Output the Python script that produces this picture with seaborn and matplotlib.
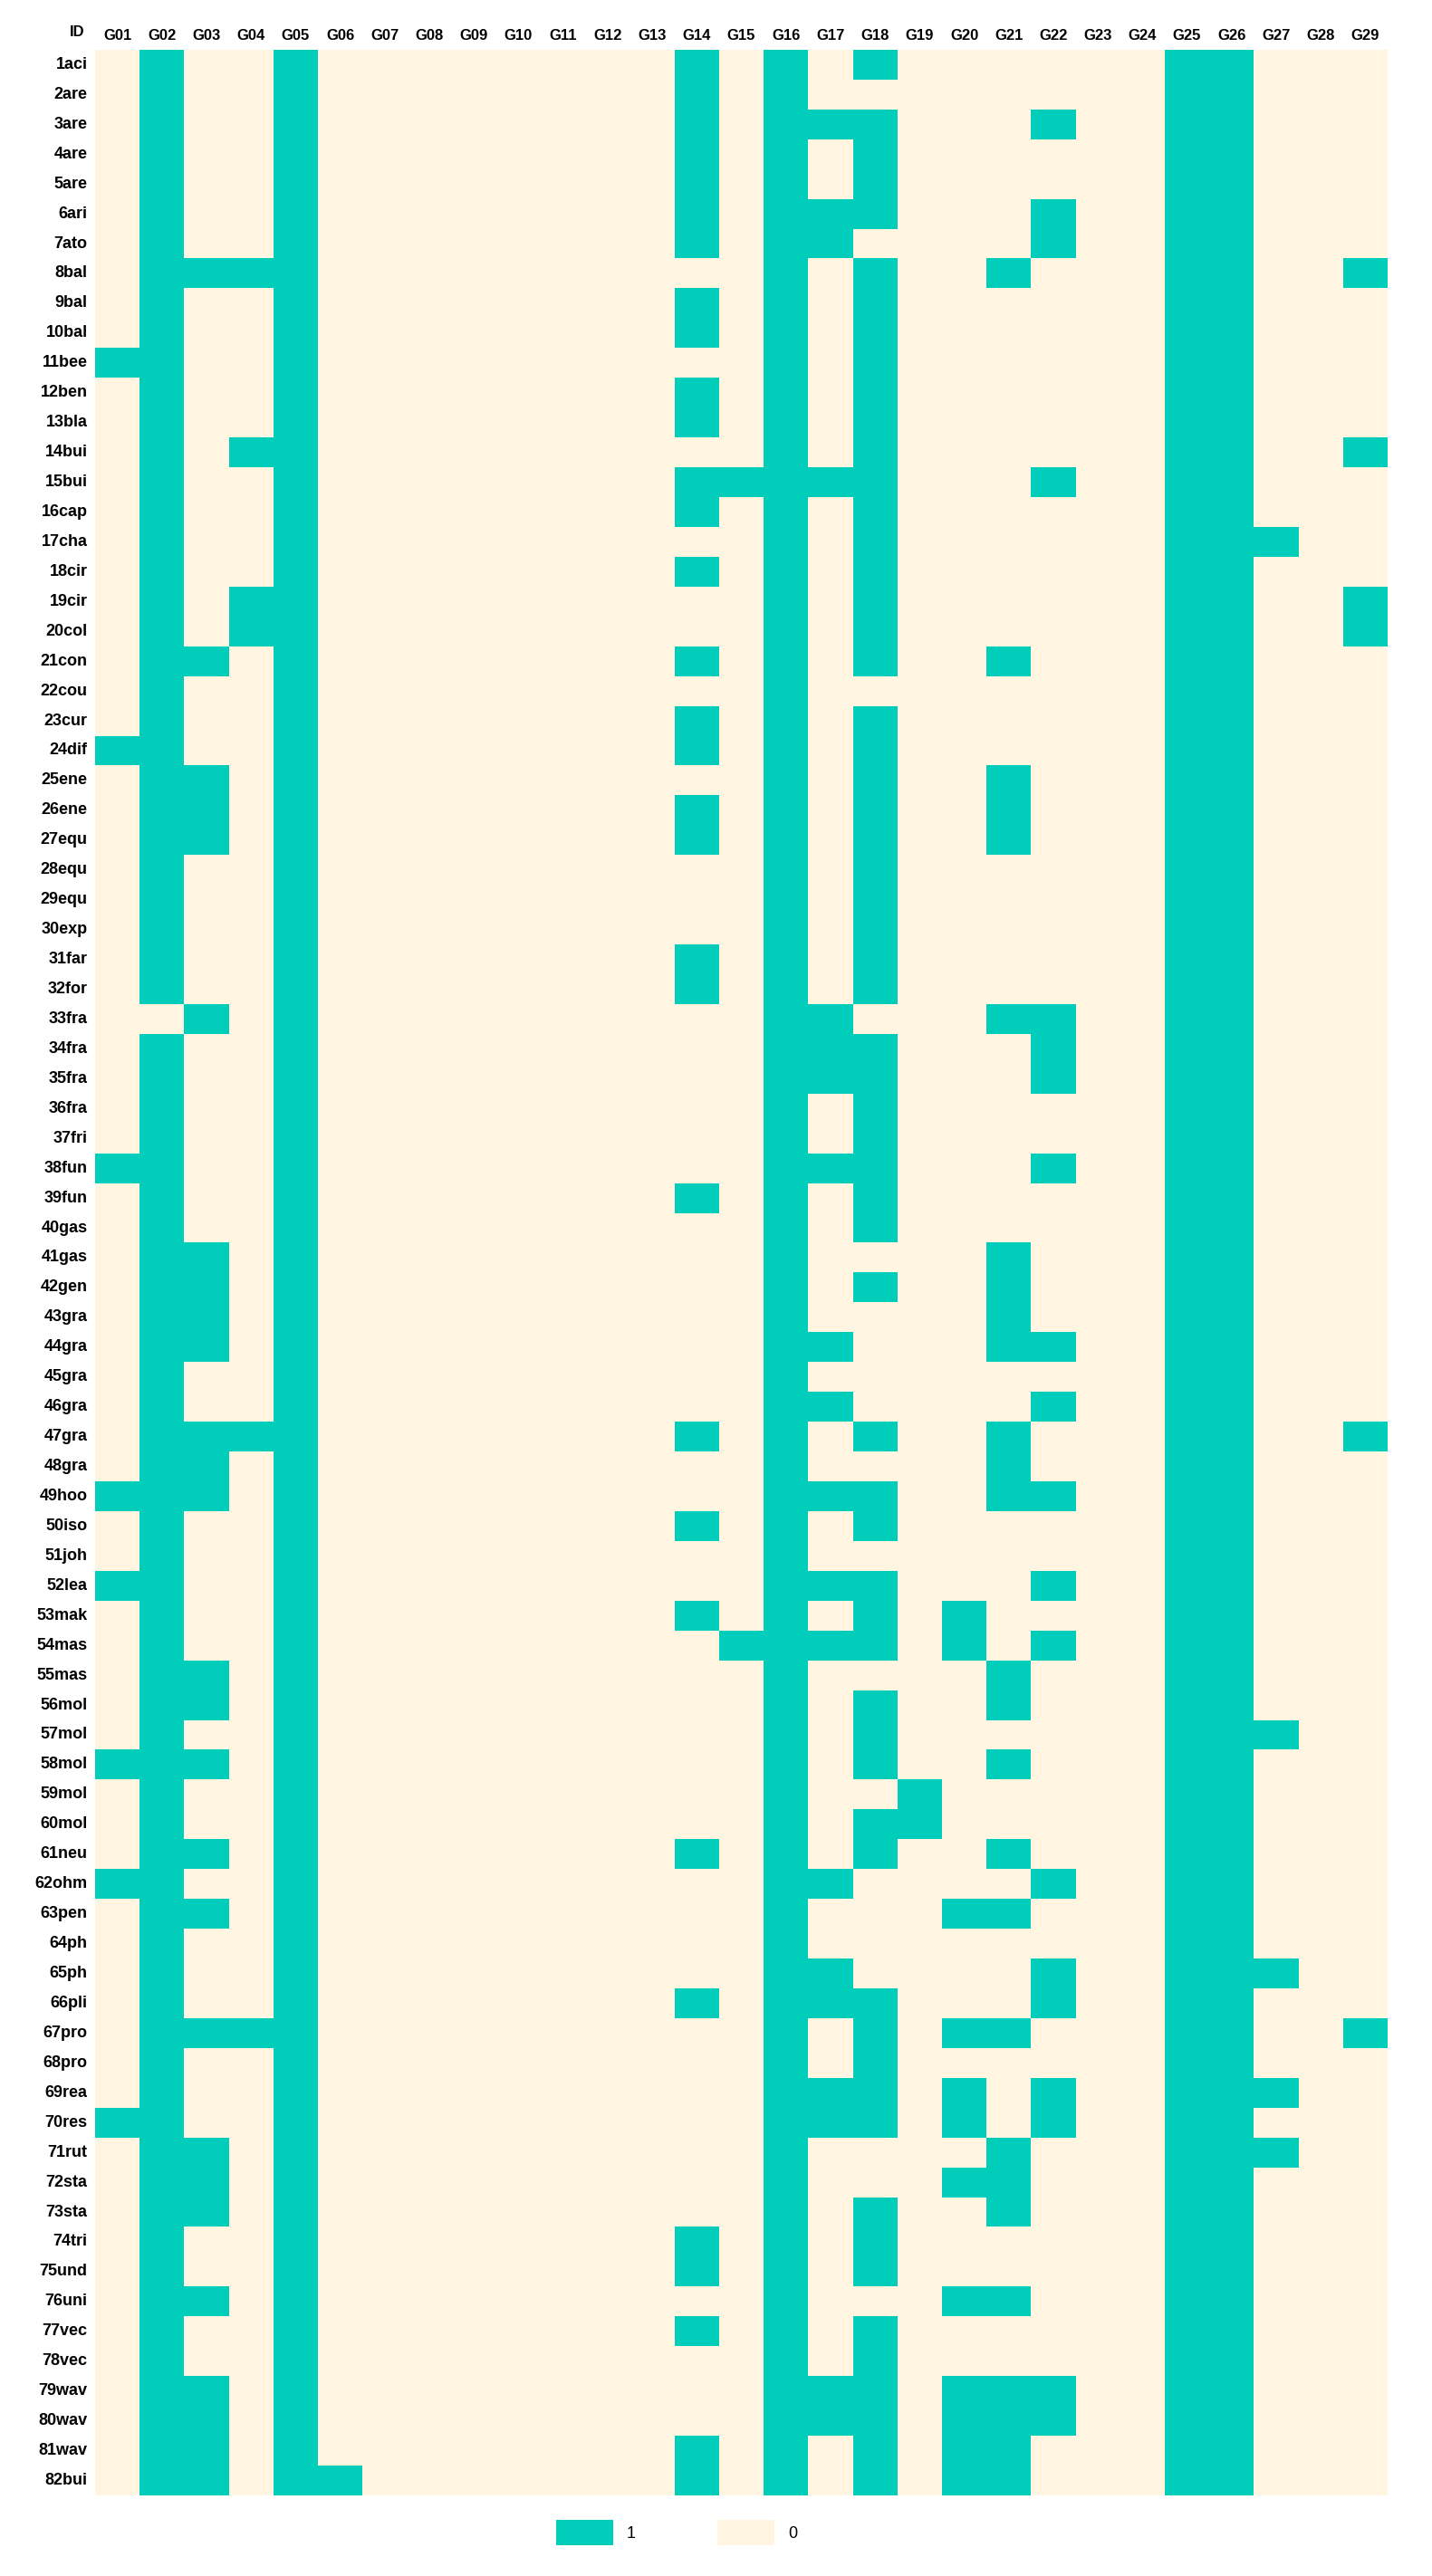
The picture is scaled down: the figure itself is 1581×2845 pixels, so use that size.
import matplotlib
matplotlib.use("Agg")
import matplotlib.pyplot as plt
from matplotlib.colors import ListedColormap
from matplotlib.patches import Patch
import seaborn as sns
import pandas as pd
import numpy as np

ids = ["1aci", "2are", "3are", "4are", "5are", "6ari", "7ato", "8bal", "9bal", "10bal",
       "11bee", "12ben", "13bla", "14bui", "15bui", "16cap", "17cha", "18cir", "19cir", "20col",
       "21con", "22cou", "23cur", "24dif", "25ene", "26ene", "27equ", "28equ", "29equ", "30exp",
       "31far", "32for", "33fra", "34fra", "35fra", "36fra", "37fri", "38fun", "39fun", "40gas",
       "41gas", "42gen", "43gra", "44gra", "45gra", "46gra", "47gra", "48gra", "49hoo", "50iso",
       "51joh", "52lea", "53mak", "54mas", "55mas", "56mol", "57mol", "58mol", "59mol", "60mol",
       "61neu", "62ohm", "63pen", "64ph", "65ph", "66pli", "67pro", "68pro", "69rea", "70res",
       "71rut", "72sta", "73sta", "74tri", "75und", "76uni", "77vec", "78vec", "79wav", "80wav",
       "81wav", "82bui"]

groups = ["G%02d" % i for i in range(1, 30)]

# columns present in every row
common = [5, 16, 25, 26]

# other columns equal to 1, row by row
active = [
    [2, 14, 18], [2, 14], [2, 14, 17, 18, 22], [2, 14, 18], [2, 14, 18],
    [2, 14, 17, 18, 22], [2, 14, 17, 22], [2, 3, 4, 18, 21, 29], [2, 14, 18], [2, 14, 18],
    [1, 2, 18], [2, 14, 18], [2, 14, 18], [2, 4, 18, 29], [2, 14, 15, 17, 18, 22],
    [2, 14, 18], [2, 18, 27], [2, 14, 18], [2, 4, 18, 29], [2, 4, 18, 29],
    [2, 3, 14, 18, 21], [2], [2, 14, 18], [1, 2, 14, 18], [2, 3, 18, 21],
    [2, 3, 14, 18, 21], [2, 3, 14, 18, 21], [2, 18], [2, 18], [2, 18],
    [2, 14, 18], [2, 14, 18], [3, 17, 21, 22], [2, 17, 18, 22], [2, 17, 18, 22],
    [2, 18], [2, 18], [1, 2, 17, 18, 22], [2, 14, 18], [2, 18],
    [2, 3, 21], [2, 3, 18, 21], [2, 3, 21], [2, 3, 17, 21, 22], [2],
    [2, 17, 22], [2, 3, 4, 14, 18, 21, 29], [2, 3, 21], [1, 2, 3, 17, 18, 21, 22], [2, 14, 18],
    [2], [1, 2, 17, 18, 22], [2, 14, 18, 20], [2, 15, 17, 18, 20, 22], [2, 3, 21],
    [2, 3, 18, 21], [2, 18, 27], [1, 2, 3, 18, 21], [2, 19], [2, 18, 19],
    [2, 3, 14, 18, 21], [1, 2, 17, 22], [2, 3, 20, 21], [2], [2, 17, 22, 27],
    [2, 14, 17, 18, 22], [2, 3, 4, 18, 20, 21, 29], [2, 18], [2, 17, 18, 20, 22, 27], [1, 2, 17, 18, 20, 22],
    [2, 3, 21, 27], [2, 3, 20, 21], [2, 3, 18, 21], [2, 14, 18], [2, 14, 18],
    [2, 3, 20, 21], [2, 14, 18], [2, 18], [2, 3, 17, 18, 20, 21, 22], [2, 3, 17, 18, 20, 21, 22],
    [2, 3, 14, 18, 20, 21], [2, 3, 6, 14, 18, 20, 21],
]

mat = np.zeros((len(ids), len(groups)), dtype=int)
for r, cols in enumerate(active):
    for c in cols + common:
        mat[r, c - 1] = 1
df = pd.DataFrame(mat, index=ids, columns=groups)

teal = "#00CEBA"
cream = "#FFF5E1"

plt.rcParams['font.family'] = ['Liberation Sans Narrow', 'Liberation Sans', 'DejaVu Sans']

fig = plt.figure(figsize=(15.81, 28.45), dpi=100)
ax = fig.add_axes([0.0664, 0.0313, 0.9026, 0.9494])
sns.heatmap(df, ax=ax, cmap=ListedColormap([cream, teal]), vmin=0, vmax=1,
            cbar=False, linewidths=0)
ax.xaxis.tick_top()
ax.set_xticks(np.arange(len(groups)) + 0.5)
ax.set_xticklabels(groups, rotation=0, fontsize=12, fontweight='bold')
ax.set_yticks(np.arange(len(ids)) + 0.5)
ax.set_yticklabels(ids, rotation=0, fontsize=13, fontweight='bold')
ax.tick_params(length=0, pad=6)
ax.set_xlabel("")
ax.set_ylabel("")
fig.text(0.054, 0.9875, "ID", fontsize=12, fontweight='bold', ha='center', va='center')

handles = [Patch(facecolor=teal, label="1"), Patch(facecolor=cream, label="0")]
ax.legend(handles=handles, loc='upper center', bbox_to_anchor=(0.45, -0.004), ncol=2,
          frameon=False, fontsize=13, handlelength=3.5, handleheight=2, columnspacing=5)

fig.savefig("out.png", dpi=100)
